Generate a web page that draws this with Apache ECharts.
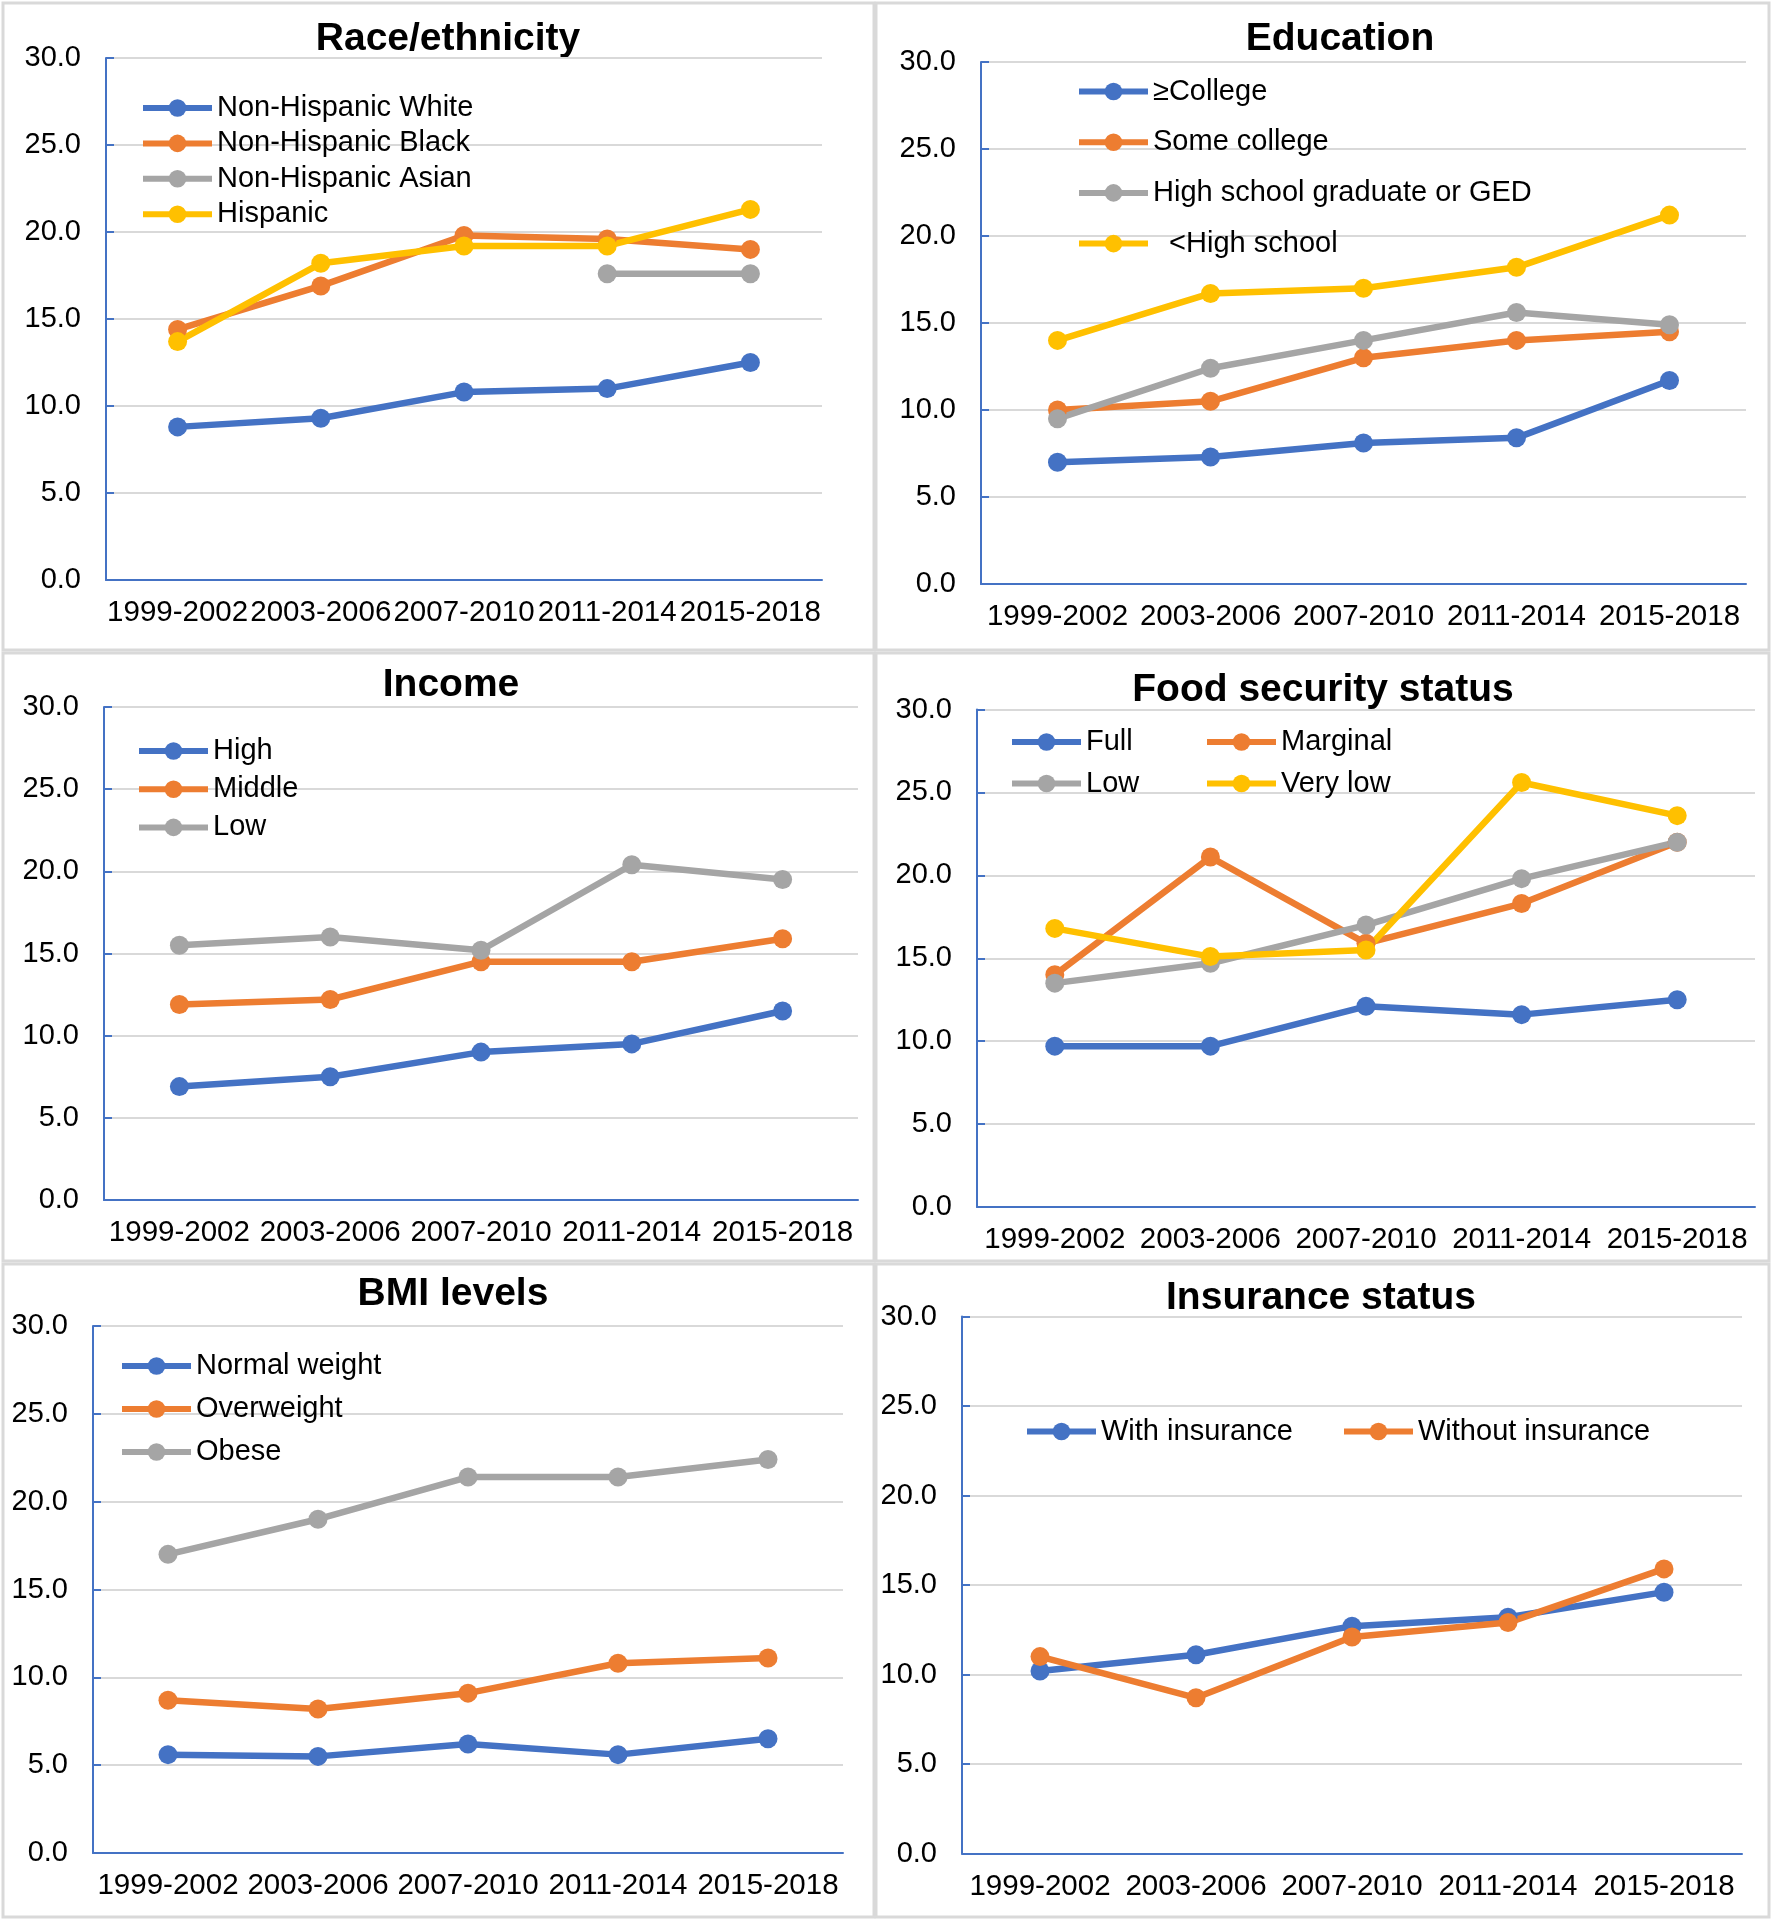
<!DOCTYPE html>
<html><head><meta charset="utf-8">
<script src="https://cdn.jsdelivr.net/npm/echarts@6/dist/echarts.min.js"></script>
<style>html,body{margin:0;padding:0;background:#fff}#c{width:1772px;height:1920px}</style>
</head><body><div id="c"></div><script>
// ---------- DATA ----------
const categories = ['1999-2002', '2003-2006', '2007-2010', '2011-2014', '2015-2018'];
const yMin = 0, yMax = 30, yStep = 5;

const raceWhite    = [8.8, 9.3, 10.8, 11.0, 12.5];
const raceBlack    = [14.4, 16.9, 19.8, 19.6, 19.0];
const raceAsian    = [null, null, null, 17.6, 17.6];
const raceHispanic = [13.7, 18.2, 19.2, 19.2, 21.3];

const eduCollege     = [7.0, 7.3, 8.1, 8.4, 11.7];
const eduSomeCollege = [10.0, 10.5, 13.0, 14.0, 14.5];
const eduHighSchool  = [9.5, 12.4, 14.0, 15.6, 14.9];
const eduLessHS      = [14.0, 16.7, 17.0, 18.2, 21.2];

const incHigh   = [6.9, 7.5, 9.0, 9.5, 11.5];
const incMiddle = [11.9, 12.2, 14.5, 14.5, 15.9];
const incLow    = [15.5, 16.0, 15.2, 20.4, 19.5];

const foodFull     = [9.7, 9.7, 12.1, 11.6, 12.5];
const foodMarginal = [14.0, 21.1, 15.9, 18.3, 22.0];
const foodLow      = [13.5, 14.7, 17.0, 19.8, 22.0];
const foodVeryLow  = [16.8, 15.1, 15.5, 25.6, 23.6];

const bmiNormal     = [5.6, 5.5, 6.2, 5.6, 6.5];
const bmiOverweight = [8.7, 8.2, 9.1, 10.8, 11.1];
const bmiObese      = [17.0, 19.0, 21.4, 21.4, 22.4];

const insWith    = [10.2, 11.1, 12.7, 13.2, 14.6];
const insWithout = [11.0, 8.7, 12.1, 12.9, 15.9];

// ---------- STYLE / LAYOUT ----------
const BLUE = '#4472C4', ORANGE = '#ED7D31', GRAY = '#A5A5A5', YELLOW = '#FFC000';
const FONT = '"Liberation Sans", Arial, sans-serif';
const TXT = '#000000';

const panels = [
  { title: 'Race/ethnicity', tx: 448, ty: 39,
    grid: { left: 106, top: 58, width: 716, height: 522 },
    series: [['Non-Hispanic White', raceWhite, BLUE], ['Non-Hispanic Black', raceBlack, ORANGE],
             ['Non-Hispanic Asian', raceAsian, GRAY], ['Hispanic', raceHispanic, YELLOW]],
    legends: [{ left: 140, top: 93, gap: 5.4, items: [0, 1, 2, 3] }] },
  { title: 'Education', tx: 1340, ty: 39,
    grid: { left: 981, top: 62, width: 765, height: 522 },
    series: [['\u2265College', eduCollege, BLUE], ['Some college', eduSomeCollege, ORANGE],
             ['High school graduate or GED', eduHighSchool, GRAY], ['  <High school', eduLessHS, YELLOW]],
    legends: [{ left: 1076, top: 76.5, gap: 20.7, items: [0, 1, 2, 3] }] },
  { title: 'Income', tx: 451, ty: 685,
    grid: { left: 104, top: 707, width: 754, height: 493 },
    series: [['High', incHigh, BLUE], ['Middle', incMiddle, ORANGE], ['Low', incLow, GRAY]],
    legends: [{ left: 136, top: 736, gap: 8.2, items: [0, 1, 2] }] },
  { title: 'Food security status', tx: 1323, ty: 690,
    grid: { left: 977, top: 709.5, width: 778, height: 497.5 },
    series: [['Full', foodFull, BLUE], ['Marginal', foodMarginal, ORANGE],
             ['Low', foodLow, GRAY], ['Very low', foodVeryLow, YELLOW]],
    legends: [{ left: 1009, top: 727, gap: 11.5, items: [0, 2] },
              { left: 1204, top: 727, gap: 11.5, items: [1, 3] }] },
  { title: 'BMI levels', tx: 453, ty: 1294,
    grid: { left: 93, top: 1326, width: 750, height: 527 },
    series: [['Normal weight', bmiNormal, BLUE], ['Overweight', bmiOverweight, ORANGE], ['Obese', bmiObese, GRAY]],
    legends: [{ left: 119, top: 1351, gap: 13, items: [0, 1, 2] }] },
  { title: 'Insurance status', tx: 1321, ty: 1298,
    grid: { left: 962, top: 1316.5, width: 780, height: 537 },
    series: [['With insurance', insWith, BLUE], ['Without insurance', insWithout, ORANGE]],
    legends: [{ left: 1024, top: 1416.5, gap: 10, items: [0] },
              { left: 1341, top: 1416.5, gap: 10, items: [1] }] }
];

const panelRects = [
  [3, 3, 871, 647], [876, 3, 893, 647],
  [3, 653, 871, 608], [876, 653, 893, 608],
  [3, 1264, 871, 653], [876, 1264, 893, 653]
];

const grid = [], xAxis = [], yAxis = [], series = [], legend = [], graphic = [];

panelRects.forEach(r => graphic.push({
  type: 'rect', silent: true, z: -10,
  shape: { x: r[0], y: r[1], width: r[2], height: r[3] },
  style: { fill: 'none', stroke: '#D9D9D9', lineWidth: 3 }
}));

panels.forEach((p, i) => {
  grid.push(Object.assign({ containLabel: false }, p.grid));
  xAxis.push({
    gridIndex: i, type: 'category', data: categories, boundaryGap: true,
    axisLine: { show: true, lineStyle: { color: BLUE, width: 2 } },
    axisTick: { show: false },
    axisLabel: { interval: 0, margin: 18, fontSize: 29.5, color: TXT, fontFamily: FONT },
    splitLine: { show: false }
  });
  yAxis.push({
    gridIndex: i, type: 'value', min: yMin, max: yMax, interval: yStep,
    axisLine: { show: true, lineStyle: { color: BLUE, width: 2 } },
    axisTick: { show: true, inside: true, length: 8, lineStyle: { color: BLUE, width: 2 } },
    axisLabel: { margin: 25, fontSize: 29, color: TXT, fontFamily: FONT, formatter: v => v.toFixed(1) },
    splitLine: { show: true, lineStyle: { color: '#D9D9D9', width: 2 } }
  });
  const names = [];
  p.series.forEach(s => {
    const nm = 'p' + i + '|' + s[0];
    names.push(nm);
    series.push({
      name: nm, type: 'line', xAxisIndex: i, yAxisIndex: i, data: s[1],
      symbol: 'circle', symbolSize: 19, connectNulls: false,
      lineStyle: { color: s[2], width: 6.5 },
      itemStyle: { color: s[2] },
      emphasis: { disabled: true }, z: 3
    });
  });
  p.legends.forEach(L => legend.push({
    orient: 'vertical', left: L.left, top: L.top, padding: 0, itemGap: L.gap,
    itemWidth: 69, itemHeight: 22, selectedMode: false,
    lineStyle: { width: 6 },
    data: L.items.map(k => names[k]),
    formatter: n => n.split('|')[1],
    textStyle: { fontSize: 29, lineHeight: 30, color: TXT, fontFamily: FONT }
  }));
  graphic.push({
    type: 'text', x: p.tx, y: p.ty, silent: true,
    style: { text: p.title, font: 'bold 39px ' + FONT, fill: '#000',
             textAlign: 'center', textVerticalAlign: 'middle', align: 'center', verticalAlign: 'middle' }
  });
});

const chart = echarts.init(document.getElementById('c'), null, { renderer: 'canvas' });
chart.setOption({
  animation: false, backgroundColor: '#fff',
  grid, xAxis, yAxis, series, legend, graphic
});
</script></body></html>
